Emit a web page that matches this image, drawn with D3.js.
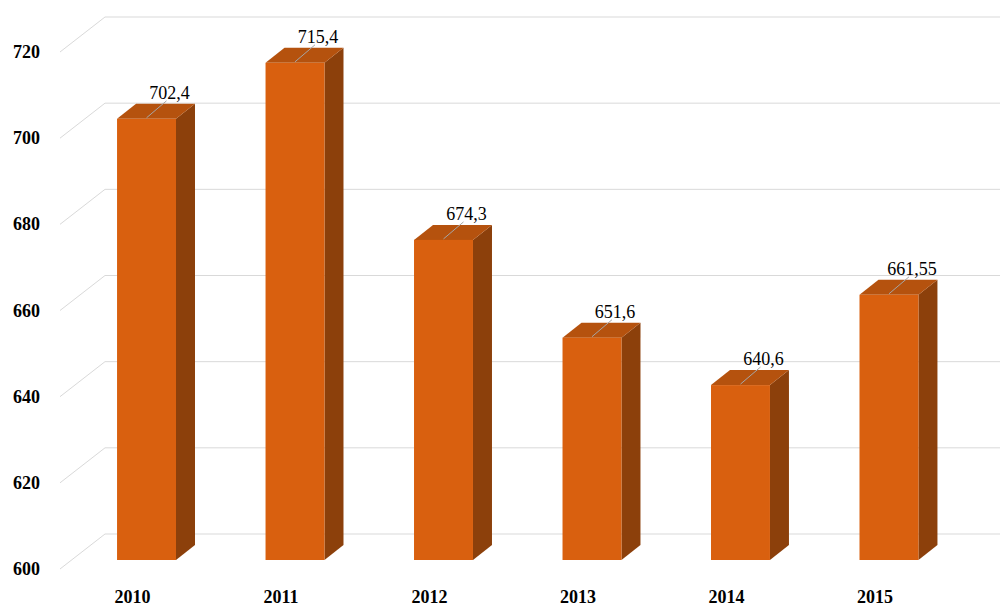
<!DOCTYPE html>
<html><head><meta charset="utf-8">
<script src="https://cdn.jsdelivr.net/npm/d3@7"></script>
<style>body{margin:0;background:#fff}</style></head>
<body><svg id="c" width="1007" height="615"></svg>
<script>
const categories=["2010","2011","2012","2013","2014","2015"];
const values=[702.4,715.4,674.3,651.6,640.6,661.55];
const valueLabels=["702,4","715,4","674,3","651,6","640,6","661,55"];
const ticks=[600,620,640,660,680,700,720];
const svg=d3.select("#c");
const font="'Liberation Serif','Times New Roman',serif";
const y=d3.scaleLinear().domain([600,720]).range([560,43]);
const x=d3.scaleBand().domain(categories).range([72.5,963]).paddingInner(0.603).paddingOuter(0.3);
const wdx=45,wdy=-35,bdx=19,bdy=-15;
const g=svg.append("g");
ticks.forEach(t=>{
  const yy=y(t)+9;
  g.append("line").attr("x1",60).attr("y1",yy).attr("x2",60+wdx).attr("y2",yy+wdy).attr("stroke","#d9d9d9");
  g.append("line").attr("x1",60+wdx).attr("y1",yy+wdy).attr("x2",1000).attr("y2",yy+wdy).attr("stroke","#d9d9d9");
  g.append("text").attr("x",40).attr("y",yy+6).attr("text-anchor","end").attr("font-family",font).attr("font-weight","bold").attr("font-size",18).text(t);
});
categories.forEach((c,i)=>{
  const x0=x(c),w=x.bandwidth(),yt=y(values[i]),yb=y(600);
  g.append("polygon").attr("points",`${x0+w},${yt} ${x0+w+bdx},${yt+bdy} ${x0+w+bdx},${yb+bdy} ${x0+w},${yb}`).attr("fill","#8C400B");
  g.append("polygon").attr("points",`${x0},${yt} ${x0+bdx},${yt+bdy} ${x0+w+bdx},${yt+bdy} ${x0+w},${yt}`).attr("fill","#B5520E");
  g.append("rect").attr("x",x0).attr("y",yt).attr("width",w).attr("height",yb-yt).attr("fill","#D9600F");
  const cx=x0+w/2;
  g.append("line").attr("x1",cx).attr("y1",yt-1).attr("x2",cx+20).attr("y2",yt-18).attr("stroke","#a6a6a6");
  g.append("text").attr("x",cx+23).attr("y",yt-20).attr("text-anchor","middle").attr("font-family",font).attr("font-size",18).text(valueLabels[i]);
  g.append("text").attr("x",cx-14).attr("y",603).attr("text-anchor","middle").attr("font-family",font).attr("font-weight","bold").attr("font-size",18).text(c);
});
</script></body></html>
